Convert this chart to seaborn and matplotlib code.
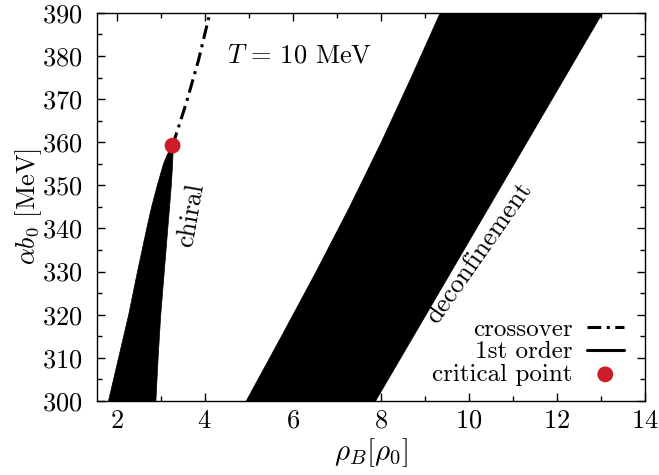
import numpy as np
import pandas as pd
import matplotlib
matplotlib.use('Agg')
import matplotlib.pyplot as plt
import seaborn as sns

# chiral first-order band (rho_B in units of rho_0, alpha*b0 in MeV)
chiral_y = [300, 310, 320, 330, 340, 345, 350, 355, 357.5, 359.2]
chiral_left = [1.80, 2.03, 2.26, 2.46, 2.67, 2.78, 2.91, 3.05, 3.15, 3.27]
chiral_right = [2.88, 2.93, 2.99, 3.07, 3.15, 3.19, 3.23, 3.26, 3.27, 3.27]

# deconfinement band
deconf_y = [300, 315, 330, 345, 360, 375, 390]
deconf_left = [4.93, 5.73, 6.52, 7.28, 8.00, 8.68, 9.34]
deconf_right = [7.87, 8.73, 9.59, 10.45, 11.31, 12.17, 13.03]

# crossover line above the critical point
cross_x = [3.27, 3.58, 3.86, 4.12]
cross_y = [359.2, 369, 379, 390]

crit_x = [3.27]
crit_y = [359.2]

sns.set_theme(style='ticks')
plt.rcParams['font.family'] = ['cmr10', 'DejaVu Serif']
plt.rcParams['mathtext.fontset'] = 'cm'
plt.rcParams['axes.formatter.use_mathtext'] = True
plt.rcParams['axes.unicode_minus'] = False
plt.rcParams['text.color'] = 'black'
plt.rcParams['axes.labelcolor'] = 'black'

fig = plt.figure(figsize=(6.59, 4.75), dpi=100)
ax = fig.add_axes([0.147, 0.156, 0.831, 0.817])

# --- bands ---
ax.fill_betweenx(chiral_y, chiral_left, chiral_right, color='black', lw=0.5)
ax.fill_betweenx(deconf_y, deconf_left, deconf_right, color='black', lw=0.5)

# --- crossover + critical point ---
cross_df = pd.DataFrame({'rho': cross_x, 'ab0': cross_y})
sns.lineplot(data=cross_df, x='rho', y='ab0', sort=False, ax=ax, color='black',
             lw=2.2, dashes=False, label='crossover')
ax.lines[-1].set_dashes([4.5, 1.8, 1.0, 1.8])
ax.plot([], [], color='black', lw=2.2, label='1st order')
sns.scatterplot(x=crit_x, y=crit_y, ax=ax, color='#cc1b29', s=130,
                edgecolor='none', zorder=5, label='critical point')

# --- annotations ---
ax.text(4.51, 378.5, r'$T\,=\,10$ MeV', fontsize=19, ha='left', va='baseline')
ax.text(3.69, 343.0, 'chiral', fontsize=19, rotation=80, ha='center', va='center',
        rotation_mode='anchor')
ax.text(10.24, 334.3, 'deconfinement', fontsize=19, rotation=55,
        ha='center', va='center', rotation_mode='anchor')

# --- axes ---
ax.set_xlim(1.55, 14)
ax.set_ylim(300, 390)
ax.set_xticks([2, 4, 6, 8, 10, 12, 14])
ax.set_xticks(np.arange(3, 14, 2), minor=True)
ax.set_yticks(np.arange(300, 391, 10))
ax.set_yticks(np.arange(305, 390, 10), minor=True)
ax.tick_params(which='both', direction='in', top=True, right=True, labelsize=19,
               width=1, colors='black')
ax.tick_params(which='major', length=5.5)
ax.tick_params(which='minor', length=3.5)
ax.tick_params(axis='y', which='both', pad=10)
ax.tick_params(axis='x', which='both', pad=6)
for sp in ax.spines.values():
    sp.set_linewidth(1)
    sp.set_color('black')

ax.set_xlabel(r'$\rho_B[\rho_0]$', fontsize=21, labelpad=2)
ax.set_ylabel(r'$\alpha b_0$ [MeV]', fontsize=19, labelpad=-1)

leg = ax.legend(loc='lower right', frameon=False, markerfirst=False, fontsize=18,
                handlelength=1.5, handletextpad=0.55, labelspacing=0.0,
                borderaxespad=0.2, bbox_to_anchor=(0.99, 0.0))

fig.savefig('out.png', dpi=100)
